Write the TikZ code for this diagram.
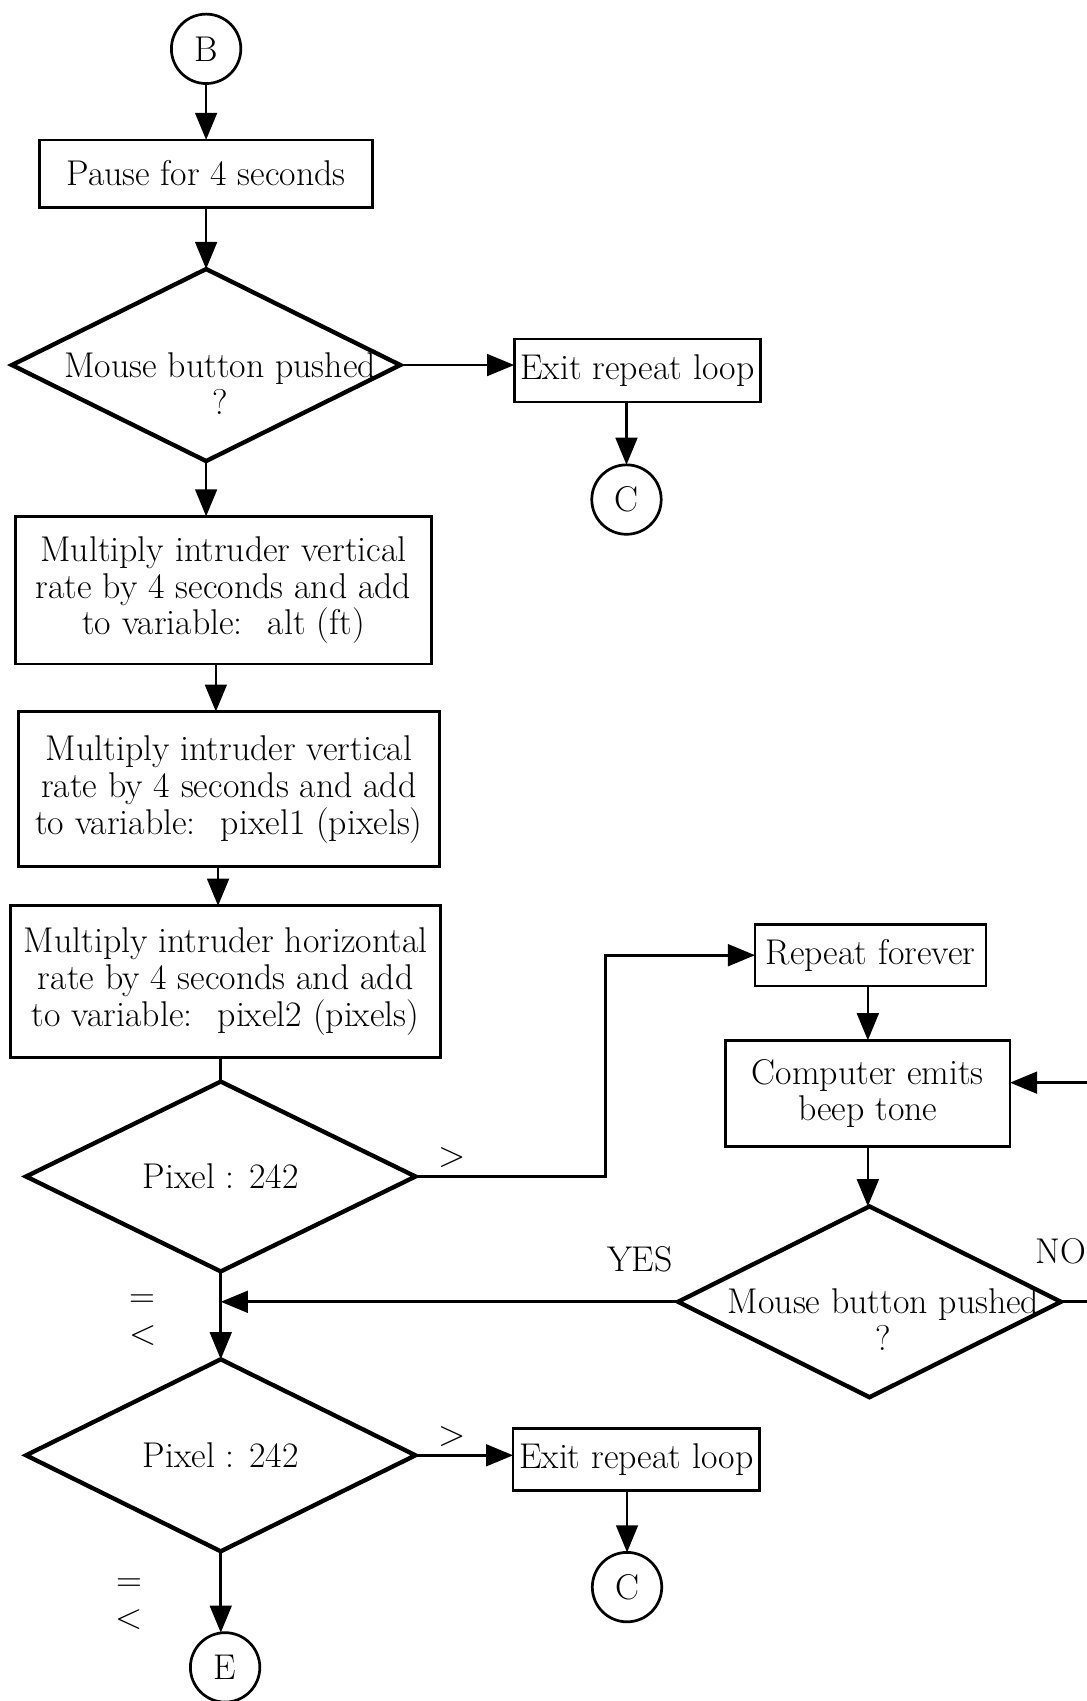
\documentclass[tikz,border=0pt]{standalone}
\usepackage{tikz}
\usetikzlibrary{positioning,shapes.geometric,arrows.meta}

\begin{document}
\begin{tikzpicture}[
  proc/.style = {
    draw,
    rectangle,
    line width = 2.5pt,
    inner sep = 0pt,
    outer sep = 0pt,
    align = center,
  },
  dec/.style = {
    draw,
    diamond,
    line width = 4pt,
    inner sep = 0pt,
    outer sep = 0pt,
  },
  conn/.style = {
    draw,
    circle,
    line width = 2.5pt,
    minimum size = 64pt,
    inner sep = 0pt,
    outer sep = 0pt,
  },
  lbl/.style = {
    inner sep = 0pt,
    outer sep = 0pt,
    align = center,
  },
  flow/.style = {line width = 2.5pt},
  >={Triangle[length=25pt,width=20pt]},
  font = \fontsize{33}{34}\selectfont,
]

  \useasboundingbox (0pt,0pt) rectangle (1002pt,-1568pt);
  \clip (0pt,0pt) rectangle (1002pt,-1568pt);

  \node[conn] (B) at (190pt,-45pt) {B};
  \node[proc,minimum width=307pt,minimum height=62pt] (pause) [below=52pt of B] {Pause for 4 seconds};
  \node[dec,minimum width=358pt,minimum height=177pt] (mb1) [below=57pt of pause] {};
  \node[lbl] (mb1t) at ([shift={(13pt,-17pt)}]mb1.center) {Mouse button pushed\\?};

  \node[proc,minimum width=227pt,minimum height=58pt] (exit1) [right=105pt of mb1,yshift=-5pt] {Exit repeat loop};
  \node[conn] (c1) [below=58pt of exit1,xshift=-10pt] {C};

  \node[proc,minimum width=383pt,minimum height=136pt] (vrate) [below=51pt of mb1,xshift=16pt]
    {Multiply intruder vertical\\rate by 4 seconds and add\\to variable:~ alt (ft)};
  \node[proc,minimum width=388pt,minimum height=143pt] (vpix) [below=44pt of vrate,xshift=5pt]
    {Multiply intruder vertical\\rate by 4 seconds and add\\to variable:~ pixel1 (pixels)};
  \node[proc,minimum width=396pt,minimum height=140pt] (hpix) [below=36pt of vpix,xshift=-3pt]
    {Multiply intruder horizontal\\rate by 4 seconds and add\\to variable:~ pixel2 (pixels)};

  \node[dec,minimum width=359pt,minimum height=175pt] (px1) [below=22pt of hpix,xshift=-4.5pt] {Pixel : 242};
  \node[dec,minimum width=359pt,minimum height=177pt] (px2) [below=81pt of px1] {Pixel : 242};
  \node[conn] (E) [below=75pt of px2,xshift=4pt] {E};

  \node[proc,minimum width=227pt,minimum height=57pt] (exit2) [right=90pt of px2,yshift=-4pt] {Exit repeat loop};
  \node[conn] (c2) [below=57pt of exit2,xshift=-8.5pt] {C};

  \node[proc,minimum width=213pt,minimum height=57pt] (forever) [right=290pt of hpix,yshift=24.5pt] {Repeat forever};
  \node[proc,minimum width=262pt,minimum height=98pt] (beep) [below=50pt of forever,xshift=-2.5pt] {Computer emits\\beep tone};
  \node[dec,minimum width=353pt,minimum height=176pt] (mb2) [below=55pt of beep,xshift=1.5pt] {};
  \node[lbl] (mb2t) at ([shift={(13pt,-16pt)}]mb2.center) {Mouse button pushed\\?};

  \node[lbl] (gt1) [above right=8pt and 21pt of px1.east] {>};
  \node[lbl] (gt2) [above right=8pt and 21pt of px2.east] {>};
  \node[lbl] (le1) at ([shift={(-72pt,-45pt)}]px1.south) {=\\<};
  \node[lbl] (le2) at ([shift={(-84pt,-49pt)}]px2.south) {=\\<};
  \node[lbl] (yes) [above left=27pt and 5pt of mb2.west] {YES};
  \node[lbl] (no) [above=35pt of mb2.east] {NO};

  \draw[flow,->] (B) -- (pause);
  \draw[flow,->] (pause) -- (mb1);
  \draw[flow,->] (mb1.east) -- (mb1.east -| exit1.west);
  \draw[flow,->] (c1 |- exit1.south) -- (c1);
  \draw[flow,->] (mb1.south) -- (mb1.south |- vrate.north);
  \draw[flow,->] ([xshift=-7pt]vrate.south) -- ([xshift=-7pt]vrate.south |- vpix.north);
  \draw[flow,->] ([xshift=-10pt]vpix.south) -- ([xshift=-10pt]vpix.south |- hpix.north);
  \draw[flow] (px1.north |- hpix.south) -- (px1.north);
  \draw[flow,->] (px1.south) -- (px2.north);
  \draw[flow,->] (px2.south) -- (px2.south |- E.north);
  \draw[flow,->] (px2.east) -- (px2.east -| exit2.west);
  \draw[flow,->] (c2 |- exit2.south) -- (c2);

  \draw[flow,->] (px1.east) -- ++(175pt,0pt) |- (forever.west);
  \draw[flow,->] (forever.south -| beep.north) -- (beep.north);
  \draw[flow,->] (beep.south) -- (beep.south |- mb2.north);
  \draw[flow,->] (mb2.west) -- (mb2.west -| px1.south);
  \draw[flow,->] (mb2.east) -- ++(80pt,0pt) |- ([yshift=10pt]beep.east);

\end{tikzpicture}
\end{document}
